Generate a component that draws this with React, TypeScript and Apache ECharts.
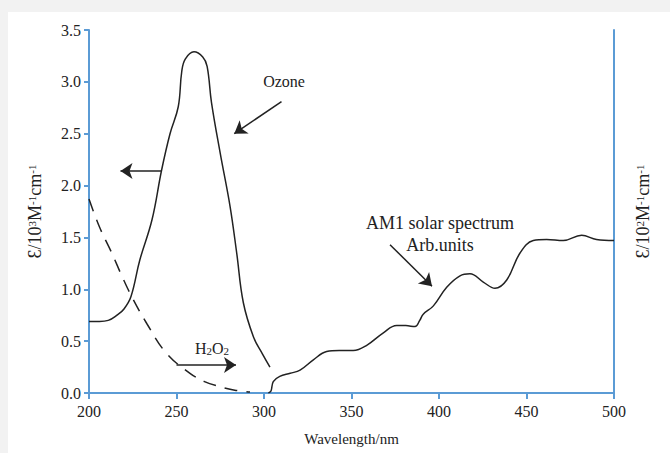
import React, { useEffect, useRef } from "react";
import * as echarts from "echarts";

// Wavelength (nm) / absorbance-like values
const ozone: [number, number][] = [
  [200, 0.69], [206, 0.69], [211, 0.7], [216, 0.75], [220, 0.81], [224, 0.93],
  [229, 1.28], [236, 1.67], [241.5, 2.15], [246.3, 2.5], [251, 2.76], [253, 3.1],
  [255, 3.22], [260, 3.29], [265, 3.24], [267.5, 3.15], [270, 2.8], [275, 2.31],
  [280.6, 1.8], [284.4, 1.35], [288.2, 0.87], [294, 0.54], [299, 0.38], [303.4, 0.25],
];
const h2o2: [number, number][] = [
  [200, 1.87], [206, 1.6], [213, 1.35], [219, 1.12], [224.4, 0.93], [233, 0.67],
  [244.4, 0.38], [257.7, 0.19], [266, 0.11], [275, 0.06], [284, 0.025], [292, 0.01],
];
const solar: [number, number][] = [
  [302.5, 0], [304, 0.02], [305.3, 0.11], [309, 0.16], [315, 0.19], [320.6, 0.22],
  [328.2, 0.32], [335.8, 0.4], [343, 0.41], [351, 0.41], [358.7, 0.46], [368.2, 0.58],
  [375.8, 0.65], [381, 0.65], [386.3, 0.64], [389, 0.7], [391, 0.76], [396.8, 0.84],
  [404.4, 1.02], [412, 1.13], [417.7, 1.15], [425.3, 1.07], [432, 1.01], [438.7, 1.09],
  [446.3, 1.35], [453.9, 1.47], [461.5, 1.48], [471, 1.47], [481.5, 1.52], [490, 1.48],
  [500, 1.47],
];
const yTicks = [0, 0.5, 1, 1.5, 2, 2.5, 3, 3.5];
const xTicks = [200, 250, 300, 350, 400, 450, 500];
// arrows: [fromX, fromY, toX, toY] in data units
const arrows: [number, number, number, number][] = [
  [310, 2.81, 283, 2.5],
  [241.5, 2.14, 218, 2.14],
  [250, 0.27, 284, 0.27],
  [372, 1.43, 396, 1.03],
];

const FONT = "'Liberation Serif', 'Times New Roman', serif";
const AXIS_COLOR = "#5b9bd5";
const INK = "#222";

export default function App() {
  const ref = useRef<HTMLDivElement>(null);
  useEffect(() => {
    if (!ref.current) return;
    const chart = echarts.init(ref.current, undefined, { renderer: "svg" });
    const nameRich = {
      a: { fontSize: 18, fontFamily: FONT, color: INK },
      s: { fontSize: 11, fontFamily: FONT, color: INK, verticalAlign: "top" as const },
    };
    chart.setOption({
      animation: false,
      backgroundColor: "#ffffff",
      grid: { left: 81, right: 56, top: 18, bottom: 60 },
      xAxis: {
        type: "value",
        min: xTicks[0],
        max: xTicks[xTicks.length - 1],
        interval: 50,
        name: "Wavelength/nm",
        nameLocation: "middle",
        nameGap: 38,
        nameTextStyle: { fontSize: 15, fontFamily: FONT, color: INK },
        axisLine: { show: true, lineStyle: { color: AXIS_COLOR, width: 2 } },
        axisTick: { show: true, length: 6, lineStyle: { color: AXIS_COLOR, width: 2 } },
        axisLabel: { fontSize: 16, fontFamily: FONT, color: INK, margin: 10 },
        splitLine: { show: false },
      },
      yAxis: [
        {
          type: "value",
          min: yTicks[0],
          max: yTicks[yTicks.length - 1],
          interval: 0.5,
          position: "left",
          name: "{a|Ɛ/10}{s|3}{a|M}{s|-1}{a|cm}{s|-1}",
          nameLocation: "middle",
          nameRotate: 90,
          nameGap: 45,
          nameTextStyle: { rich: nameRich },
          axisLine: { show: true, lineStyle: { color: AXIS_COLOR, width: 2 } },
          axisTick: { show: true, length: 5, lineStyle: { color: AXIS_COLOR, width: 2 } },
          axisLabel: {
            fontSize: 16, fontFamily: FONT, color: INK, margin: 8,
            formatter: (v: number) => v.toFixed(1),
          },
          splitLine: { show: false },
        },
        {
          type: "value",
          min: yTicks[0],
          max: yTicks[yTicks.length - 1],
          interval: 0.5,
          position: "right",
          name: "{a|Ɛ/10}{s|2}{a|M}{s|-1}{a|cm}{s|-1}",
          nameLocation: "middle",
          nameRotate: 90,
          nameGap: 20,
          nameTextStyle: { rich: nameRich },
          axisLine: { show: true, lineStyle: { color: AXIS_COLOR, width: 2 } },
          axisTick: { show: false },
          axisLabel: { show: false },
          splitLine: { show: false },
        },
      ],
      series: [
        {
          type: "line",
          name: "Ozone",
          data: ozone,
          smooth: 0.4,
          showSymbol: false,
          silent: true,
          lineStyle: { color: INK, width: 1.5 },
          markLine: {
            silent: true,
            symbol: ["none", "arrow"],
            symbolSize: 12,
            label: { show: false },
            lineStyle: { color: INK, width: 1.5, type: "solid" },
            data: arrows.map(([x1, y1, x2, y2]) => [
              { coord: [x1, y1] },
              { coord: [x2, y2] },
            ]),
          },
        },
        {
          type: "line",
          name: "H2O2",
          data: h2o2,
          smooth: 0.4,
          showSymbol: false,
          silent: true,
          lineStyle: { color: INK, width: 1.5, type: [13, 9] },
        },
        {
          type: "line",
          name: "AM1",
          data: solar,
          smooth: 0.4,
          showSymbol: false,
          silent: true,
          lineStyle: { color: INK, width: 1.5 },
        },
      ],
      graphic: [
        {
          type: "text", x: 276, y: 69,
          style: { text: "Ozone", font: `16px ${FONT}`, fill: INK, textAlign: "center", textVerticalAlign: "middle" },
        },
        {
          type: "text", x: 204, y: 336,
          style: {
            text: "{a|H}{b|2}{a|O}{b|2}",
            textAlign: "center",
            textVerticalAlign: "middle",
            rich: {
              a: { fontSize: 16, fontFamily: FONT, fill: INK },
              b: { fontSize: 11, fontFamily: FONT, fill: INK, verticalAlign: "bottom" },
            },
          },
        },
        {
          type: "text", x: 432, y: 211,
          style: { text: "AM1 solar spectrum", font: `18px ${FONT}`, fill: INK, textAlign: "center", textVerticalAlign: "middle" },
        },
        {
          type: "text", x: 432, y: 233,
          style: { text: "Arb.units", font: `18px ${FONT}`, fill: INK, textAlign: "center", textVerticalAlign: "middle" },
        },
      ],
    });
    return () => chart.dispose();
  }, []);
  return (
    <div style={{ position: "fixed", left: 0, top: 0, width: 670, height: 453, background: "#f2f2f2" }}>
      <div ref={ref} style={{ position: "absolute", left: 8, top: 12, width: 662, height: 441 }} />
    </div>
  );
}
